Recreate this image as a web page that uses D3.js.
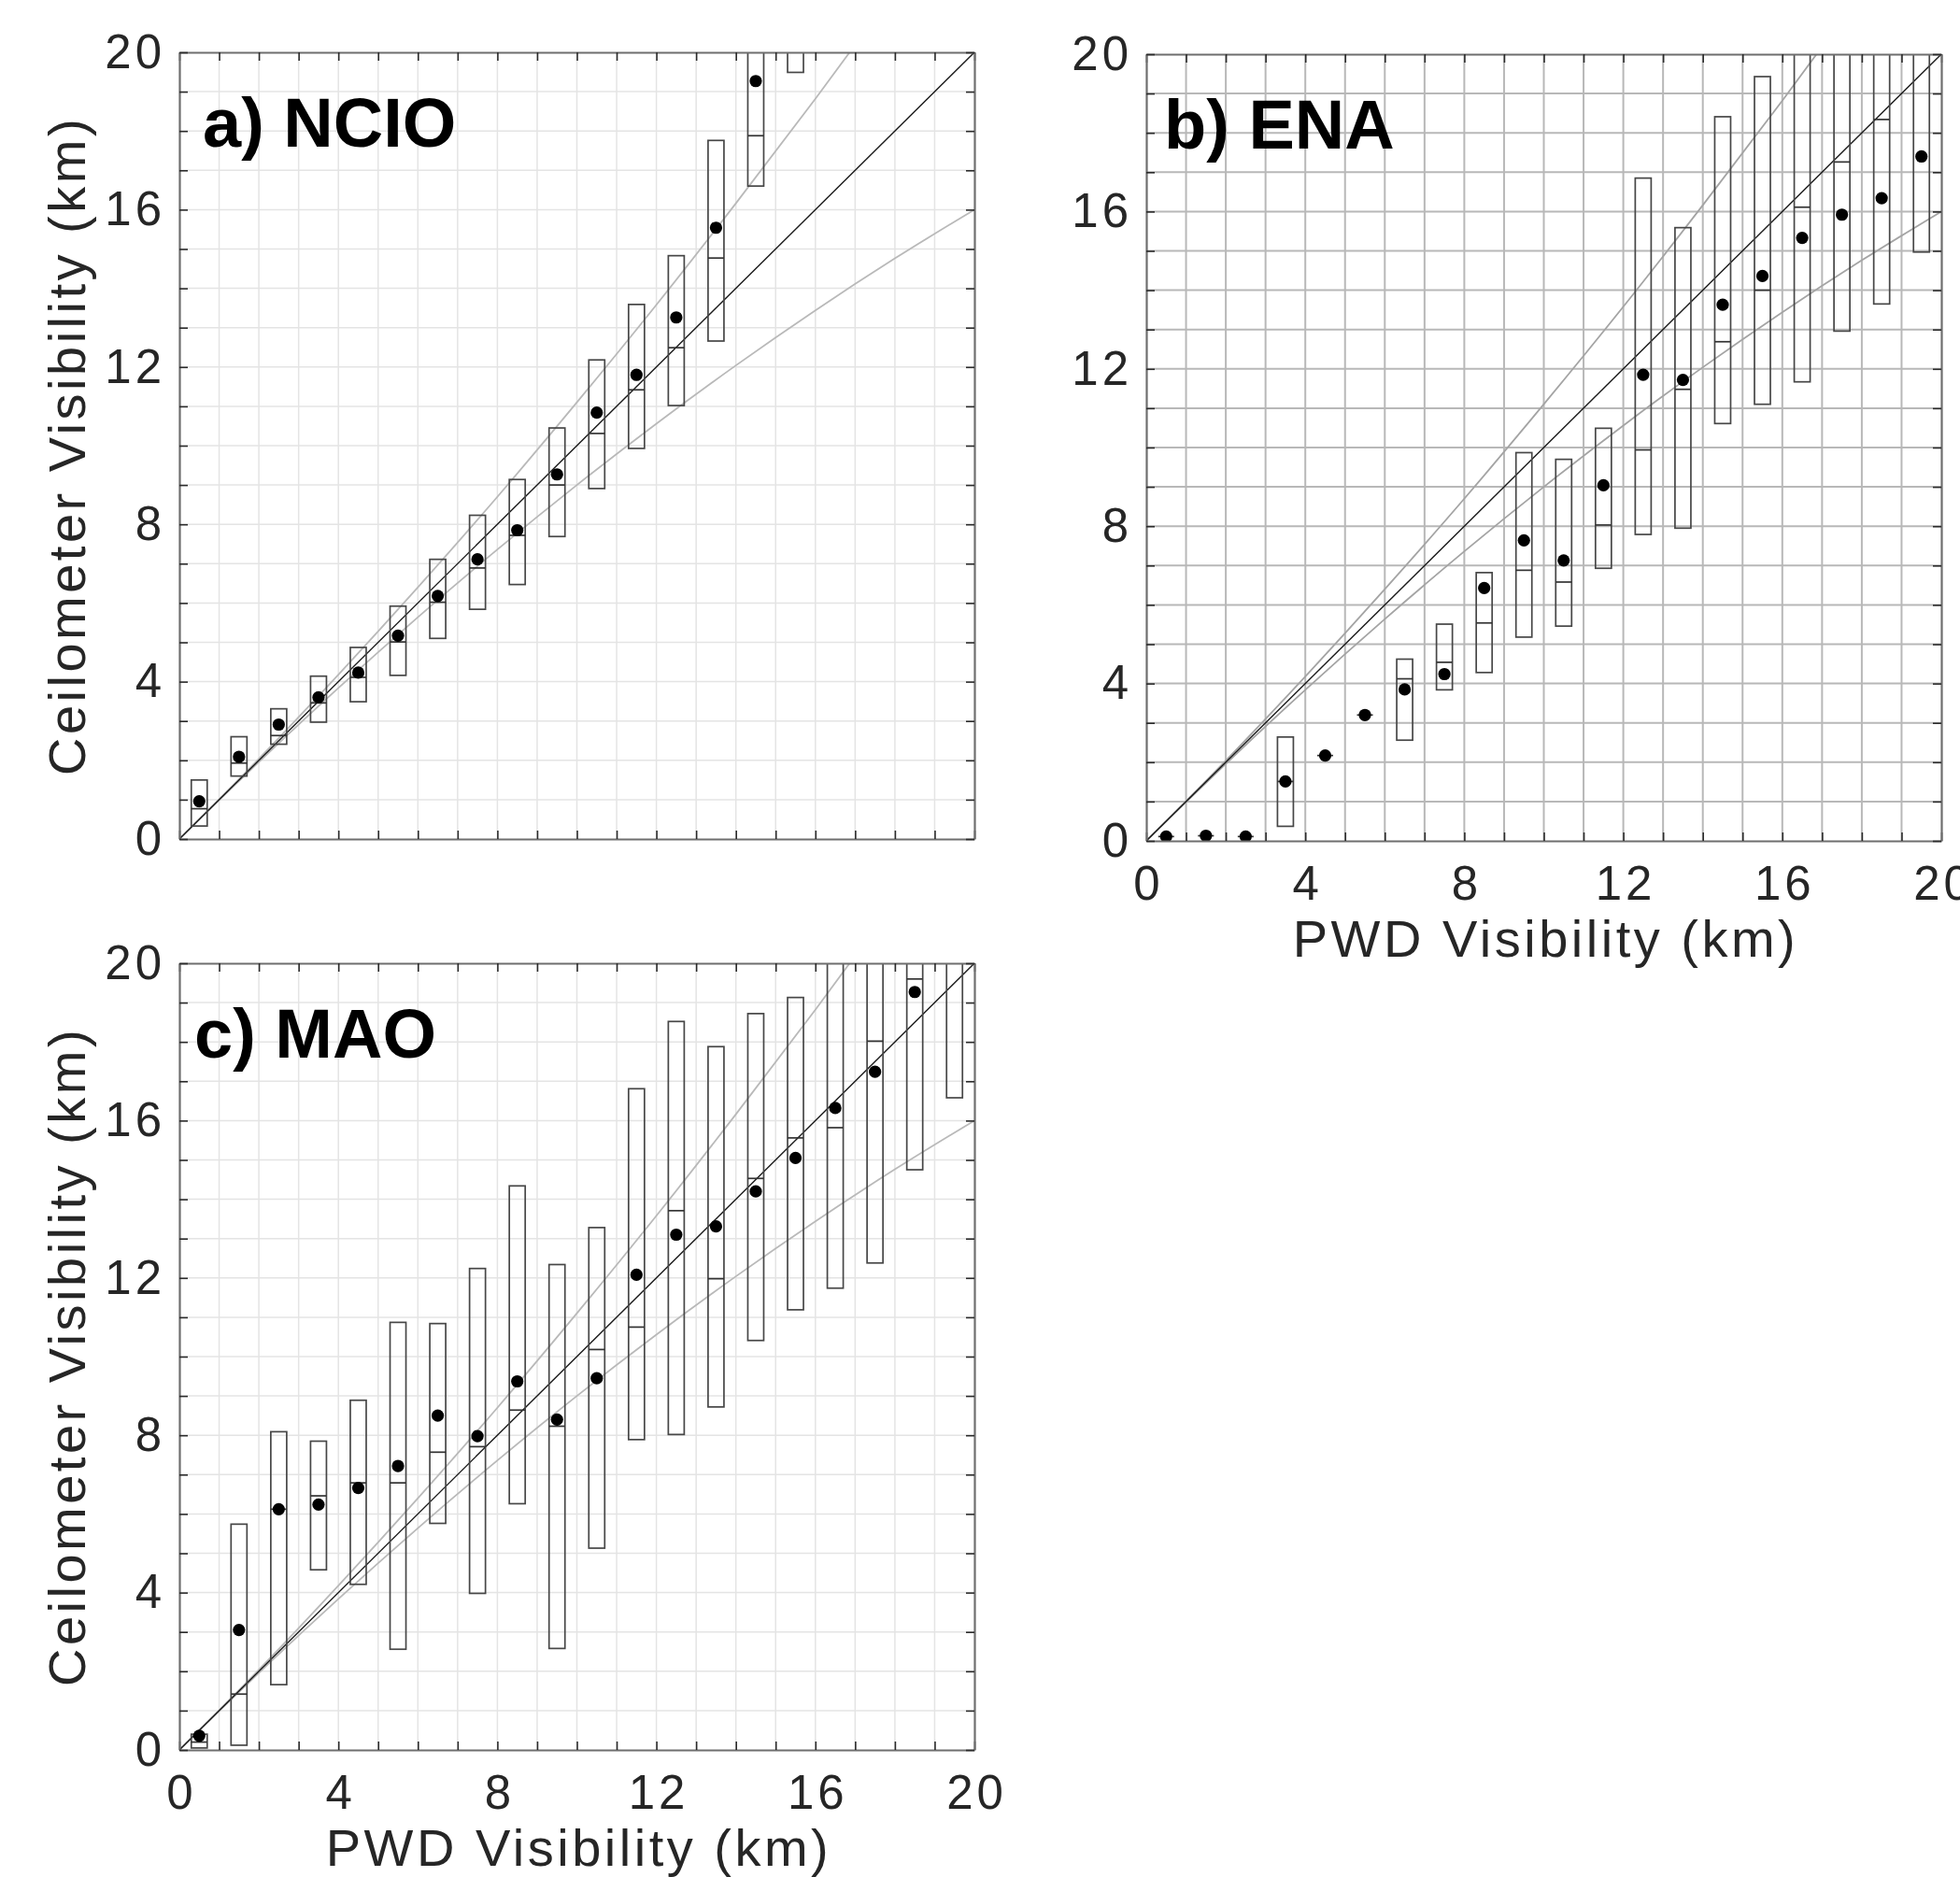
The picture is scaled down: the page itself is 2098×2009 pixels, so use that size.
<!DOCTYPE html>
<html>
<head>
<meta charset="utf-8">
<script src="https://cdn.jsdelivr.net/npm/d3@7"></script>
<style>
  html, body { margin: 0; padding: 0; background: #fff; }
  svg { display: block; }
</style>
</head>
<body>
<script>
// PWD visibility bins (km): box centres on the x axis
const binCenters = [0.5, 1.5, 2.5, 3.5, 4.5, 5.5, 6.5, 7.5, 8.5, 9.5,
                    10.5, 11.5, 12.5, 13.5, 14.5, 15.5, 16.5, 17.5, 18.5, 19.5];
const tickValues = [0, 4, 8, 12, 16, 20];

// 1:1 line and the upper / lower envelope curves (x, y in km)
const oneToOne   = [[0, 0], [20, 20]];
const upperCurve = [[0, 0], [2, 2.04], [4, 4.18], [6, 6.40], [8, 8.70], [10, 11.10],
                    [12, 13.58], [14, 16.16], [16, 18.82], [18, 21.56]];
const lowerCurve = [[0, 0], [2, 1.96], [4, 3.84], [6, 5.64], [8, 7.36], [10, 9.00],
                    [12, 10.56], [14, 12.04], [16, 13.44], [18, 14.76], [20, 16.00]];

// a) NCIO — ceilometer visibility per bin: quartiles, median, mean
const ncioLower  = [0.33, 1.60, 2.41, 2.97, 3.49, 4.16, 5.10, 5.84, 6.47, 7.69, 8.91, 9.93, 11.02, 12.66, 16.60, 19.49, null, null, null, null];
const ncioUpper  = [1.50, 2.60, 3.31, 4.14, 4.87, 5.92, 7.11, 8.23, 9.14, 10.45, 12.18, 13.59, 14.83, 17.76, 20.8, 21.5, null, null, null, null];
const ncioMedian = [0.77, 1.93, 2.63, 3.46, 4.11, 5.01, 6.02, 6.89, 7.72, 9.00, 10.31, 11.42, 12.49, 14.77, 17.88, 20.6, null, null, null, null];
const ncioMean   = [0.96, 2.09, 2.91, 3.60, 4.23, 5.17, 6.18, 7.11, 7.85, 9.27, 10.84, 11.80, 13.26, 15.54, 19.27, 21.0, null, null, null, null];

// b) ENA
const enaLower  = [0.11, 0.13, 0.11, 0.37, 2.17, 3.20, 2.56, 3.84, 4.28, 5.18, 5.46, 6.93, 7.79, 7.95, 10.61, 11.10, 11.67, 12.96, 13.65, 14.97];
const enaUpper  = [0.11, 0.13, 0.11, 2.64, 2.17, 3.20, 4.62, 5.51, 6.82, 9.87, 9.70, 10.49, 16.85, 15.59, 18.41, 19.43, 20.6, 21.2, 21.8, 22.0];
const enaMedian = [0.11, 0.13, 0.11, 1.51, 2.17, 3.20, 4.12, 4.54, 5.54, 6.88, 6.58, 8.03, 9.94, 11.48, 12.69, 14.00, 16.11, 17.26, 18.34, 20.4];
const enaMean   = [0.11, 0.13, 0.11, 1.51, 2.17, 3.20, 3.85, 4.24, 6.43, 7.64, 7.13, 9.04, 11.85, 11.72, 13.63, 14.36, 15.33, 15.92, 16.34, 17.40];

// c) MAO
const maoLower  = [0.05, 0.12, 1.66, 4.58, 4.21, 2.56, 5.76, 3.98, 6.26, 2.58, 5.13, 7.89, 8.02, 8.72, 10.41, 11.19, 11.74, 12.38, 14.75, 16.58];
const maoUpper  = [0.40, 5.74, 8.09, 7.85, 8.89, 10.87, 10.84, 12.24, 14.34, 12.34, 13.28, 16.81, 18.52, 17.88, 18.72, 19.13, 20.5, 21.0, 21.5, 22.0];
const maoMedian = [0.20, 1.42, 6.12, 6.46, 6.79, 6.79, 7.57, 7.71, 8.64, 8.23, 10.18, 10.75, 13.71, 11.98, 14.53, 15.56, 15.82, 18.02, 19.60, 20.5];
const maoMean   = [0.36, 3.05, 6.12, 6.24, 6.66, 7.22, 8.50, 7.98, 9.37, 8.40, 9.45, 12.08, 13.10, 13.31, 14.20, 15.05, 16.32, 17.24, 19.27, 20.7];

const xTitle = "PWD Visibility (km)";
const yTitle = "Ceilometer Visibility (km)";

const W = 851, H = 842;
const FONT = "'Liberation Sans', Arial, Helvetica, sans-serif";

const svg = d3.select("body").append("svg")
  .attr("width", 2098).attr("height", 2009);

const panels = [
  { id: "a", label: "a) NCIO", labelDx: 25, left: 192, top: 56, lower: ncioLower, upper: ncioUpper, median: ncioMedian, mean: ncioMean,
    xLabels: false, xTitle: false, yTitle: true, gridColor: "#e4e4e4", gridWidth: 1.5, refColor: "#b9b9b9" },
  { id: "b", label: "b) ENA", labelDx: 19, left: 1227, top: 58, lower: enaLower, upper: enaUpper, median: enaMedian, mean: enaMean,
    xLabels: true, xTitle: true, yTitle: false, gridColor: "#b8b8b8", gridWidth: 2, refColor: "#a4a4a4" },
  { id: "c", label: "c) MAO", labelDx: 16, left: 192, top: 1031, lower: maoLower, upper: maoUpper, median: maoMedian, mean: maoMean,
    xLabels: true, xTitle: true, yTitle: true, gridColor: "#e4e4e4", gridWidth: 1.5, refColor: "#b9b9b9" }
];

panels.forEach(p => {
  const x = d3.scaleLinear().domain([0, 20]).range([p.left, p.left + W]);
  const y = d3.scaleLinear().domain([0, 20]).range([p.top + H, p.top]);
  const g = svg.append("g");

  svg.append("clipPath").attr("id", "clip-" + p.id)
    .append("rect").attr("x", p.left).attr("y", p.top).attr("width", W).attr("height", H);

  // 1 km grid
  const gridVals = d3.range(1, 20);
  g.append("g").selectAll("line").data(gridVals).join("line")
    .attr("x1", d => x(d)).attr("x2", d => x(d)).attr("y1", y(0)).attr("y2", y(20))
    .attr("stroke", p.gridColor).attr("stroke-width", p.gridWidth);
  g.append("g").selectAll("line").data(gridVals).join("line")
    .attr("y1", d => y(d)).attr("y2", d => y(d)).attr("x1", x(0)).attr("x2", x(20))
    .attr("stroke", p.gridColor).attr("stroke-width", p.gridWidth);

  const plot = g.append("g").attr("clip-path", `url(#clip-${p.id})`);

  // envelope curves and 1:1 line
  const line = d3.line().x(d => x(d[0])).y(d => y(d[1])).curve(d3.curveMonotoneX);
  [upperCurve, lowerCurve].forEach(c => {
    plot.append("path").attr("d", line(c))
      .attr("fill", "none").attr("stroke", p.refColor).attr("stroke-width", 1.8);
  });
  plot.append("path").attr("d", line(oneToOne))
    .attr("fill", "none").attr("stroke", "#1a1a1a").attr("stroke-width", 1.4);

  // boxes (interquartile range) with median bar
  const rows = binCenters.map((c, i) => ({
    c, lo: p.lower[i], hi: p.upper[i], med: p.median[i], mean: p.mean[i]
  })).filter(d => d.lo !== null);

  const halfW = 0.2;
  plot.append("g").selectAll("rect").data(rows).join("rect")
    .attr("x", d => x(d.c - halfW)).attr("width", d => x(d.c + halfW) - x(d.c - halfW))
    .attr("y", d => y(d.hi)).attr("height", d => Math.max(0, y(d.lo) - y(d.hi)))
    .attr("fill", "none").attr("stroke", "#474747").attr("stroke-width", 1.7);
  plot.append("g").selectAll("line").data(rows).join("line")
    .attr("x1", d => x(d.c - halfW)).attr("x2", d => x(d.c + halfW))
    .attr("y1", d => y(d.med)).attr("y2", d => y(d.med))
    .attr("stroke", "#333").attr("stroke-width", 1.7);

  // bin means
  plot.append("g").selectAll("circle").data(rows).join("circle")
    .attr("cx", d => x(d.c)).attr("cy", d => y(d.mean)).attr("r", 6.6)
    .attr("fill", "#000");

  // axes: inward ticks every 1 km on all four sides, labels every 4 km
  const fmt = d => (tickValues.includes(d) ? d : "");
  const styleAxis = (sel, showLabels) => {
    sel.select(".domain").attr("stroke", "#6e6e6e").attr("stroke-width", 2.2);
    sel.selectAll(".tick line").attr("stroke", "#2b2b2b").attr("stroke-width", 1.6);
    sel.selectAll("text")
      .attr("fill", "#262626")
      .style("font-family", FONT).style("font-size", "51px")
      .style("letter-spacing", "4px")
      .style("display", showLabels ? null : "none");
  };
  const allTicks = d3.range(0, 21);

  g.append("g").attr("transform", `translate(0,${y(0)})`)
    .call(d3.axisBottom(x).tickValues(allTicks).tickFormat(fmt).tickSize(-9).tickSizeOuter(0).tickPadding(27))
    .call(s => styleAxis(s, p.xLabels))
    .call(s => s.selectAll(".tick text").attr("dx", "2px"));
  g.append("g").attr("transform", `translate(0,${y(20)})`)
    .call(d3.axisTop(x).tickValues(allTicks).tickFormat("").tickSize(-9).tickSizeOuter(0))
    .call(s => styleAxis(s, false));
  g.append("g").attr("transform", `translate(${x(0)},0)`)
    .call(d3.axisLeft(y).tickValues(allTicks).tickFormat(fmt).tickSize(-9).tickSizeOuter(0).tickPadding(15))
    .call(s => styleAxis(s, true));
  g.append("g").attr("transform", `translate(${x(20)},0)`)
    .call(d3.axisRight(y).tickValues(allTicks).tickFormat("").tickSize(-9).tickSizeOuter(0))
    .call(s => styleAxis(s, false));

  // titles
  if (p.xTitle) {
    g.append("text").attr("x", (x(0) + x(20)) / 2 + 2).attr("y", y(0) + 124)
      .attr("text-anchor", "middle").attr("fill", "#262626")
      .style("font-family", FONT).style("font-size", "56px").style("letter-spacing", "3.5px")
      .text(xTitle);
  }
  if (p.yTitle) {
    g.append("text")
      .attr("transform", `translate(91,${(y(0) + y(20)) / 2}) rotate(-90)`)
      .attr("text-anchor", "middle").attr("fill", "#262626")
      .style("font-family", FONT).style("font-size", "56px").style("letter-spacing", "3.5px")
      .text(yTitle);
  }

  // panel label
  g.append("text").attr("x", x(0) + p.labelDx).attr("y", y(20) + 101)
    .attr("fill", "#000").style("font-family", FONT).style("font-weight", "bold")
    .style("font-size", "74px").text(p.label);
});
</script>
</body>
</html>
